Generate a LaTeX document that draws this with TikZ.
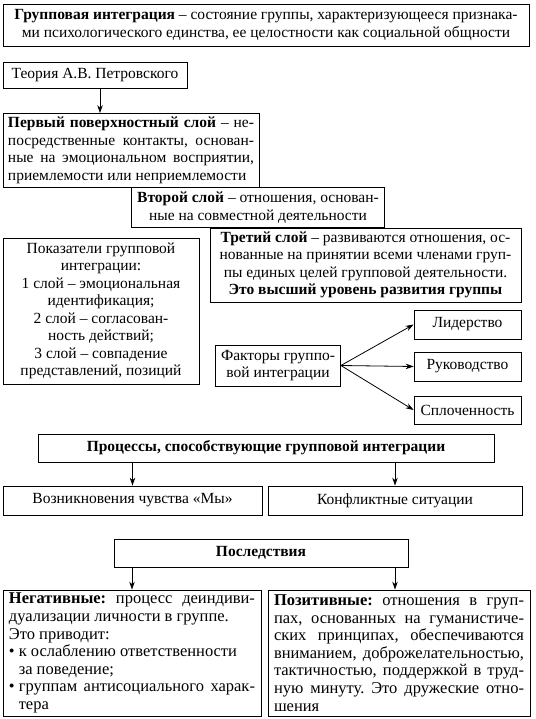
\documentclass[tikz,border=0pt]{standalone}
\usepackage{fontspec}
\setmainfont{Liberation Serif}
\usetikzlibrary{arrows.meta}

\begin{document}
\begin{tikzpicture}[x=1pt,y=-1pt,
  box/.style={draw,line width=0.8pt,inner sep=0pt,align=center,
    font=\fontsize{15.5pt}{17.5pt}\selectfont},
  jbox/.style={box,align=justify,font=\fontsize{16.5pt}{17.6pt}\selectfont\frenchspacing},
  arr/.style={line width=0.8pt,-{Stealth[length=8pt,width=5.5pt]}}]
\useasboundingbox (0,0) rectangle (535,719);
% top
\node[box,minimum width=526,minimum height=42] (opred) at (266,25)
  {\textbf{Групповая интеграция} -- состояние группы, характеризующееся признака-\\
   ми психологического единства, ее целостности как социальной общности};
\node[box,minimum width=184,minimum height=26] (teoria) at (95,75)
  {Теория А.В. Петровского};
% layers
\node[jbox,font=\fontsize{15.5pt}{17.5pt}\selectfont\frenchspacing,
  minimum width=256,minimum height=74,text width=246] (sloj1) at (131,150.5)
  {\textbf{Первый поверхностный слой} -- не-\linebreak
   посредственные контакты, основан-\linebreak
   ные на эмоциональном восприятии,\linebreak
   приемлемости или неприемлемости};
\node[box,minimum width=253,minimum height=40] (sloj2) at (258,207.5)
  {\textbf{Второй слой} -- отношения, основан-\\
   ные на совместной деятельности};
\node[box,minimum width=311,minimum height=74] (sloj3) at (365.5,265)
  {\textbf{Третий слой} -- развиваются отношения, ос-\\
   нованные на принятии всеми членами груп-\\
   пы единых целей групповой деятельности.\\
   \textbf{Это высший уровень развития группы}};
% indicators and factors
\node[box,minimum width=196,minimum height=146] (pokaz) at (101,311)
  {Показатели групповой\\интеграции:\\1 слой -- эмоциональная\\идентификация;\\
   2 слой -- согласован-\\ность действий;\\3 слой -- совпадение\\представлений, позиций};
\node[box,minimum width=125,minimum height=41] (faktory) at (278,365.5)
  {Факторы группо-\\вой интеграции};
\node[box,minimum width=107,minimum height=29] (lider) at (467.5,324.5) {Лидерство};
\node[box,minimum width=107,minimum height=29] (rukov) at (467.5,366.5) {Руководство};
\node[box,minimum width=107,minimum height=28] (splot) at (467.5,410) {Сплоченность};
% processes
\node[box,minimum width=456,minimum height=28] (process) at (266,448)
  {\textbf{Процессы, способствующие групповой интеграции}};
\node[box,minimum width=259,minimum height=29] (my) at (132.5,500.5)
  {Возникновения чувства «Мы»};
\node[box,minimum width=254,minimum height=29] (konflikt) at (395,500.5)
  {Конфликтные ситуации};
% consequences
\node[box,minimum width=294,minimum height=28] (posled) at (261,553)
  {\textbf{Последствия}};
\node[jbox,minimum width=258,minimum height=126,text width=246] (negat) at (132,653)
  {\textbf{Негативные:} процесс деиндиви-\linebreak
   дуализации личности в группе.\\
   Это приводит:\\
   •\kern4pt к ослаблению ответственности\\
   \phantom{•}\kern4pt за поведение;\\
   •\kern4pt группам антисоциального харак-\linebreak
   \phantom{•}\kern4pt тера};
\node[jbox,minimum width=262,minimum height=126,text width=250] (pozit) at (399,653)
  {\textbf{Позитивные:} отношения в груп-\linebreak
   пах, основанных на гуманистиче-\linebreak
   ских принципах, обеспечиваются\linebreak
   вниманием, доброжелательностью,\linebreak
   тактичностью, поддержкой в труд-\linebreak
   ную минуту. Это дружеские отно-\linebreak
   шения};
% arrows
\draw[arr] ([xshift=5pt]teoria.south) -- ([xshift=5pt]teoria.south |- sloj1.north);
\draw[arr] (faktory.east) -- (lider.west);
\draw[arr] (faktory.east) -- (rukov.west);
\draw[arr] (faktory.east) -- (splot.west);
\draw[arr] (process.south -| my) -- (my.north);
\draw[arr] (process.south -| konflikt) -- (konflikt.north);
\draw[arr] (posled.south -| negat) -- (negat.north);
\draw[arr] (posled.south -| konflikt) -- (pozit.north -| konflikt);
\end{tikzpicture}
\end{document}
